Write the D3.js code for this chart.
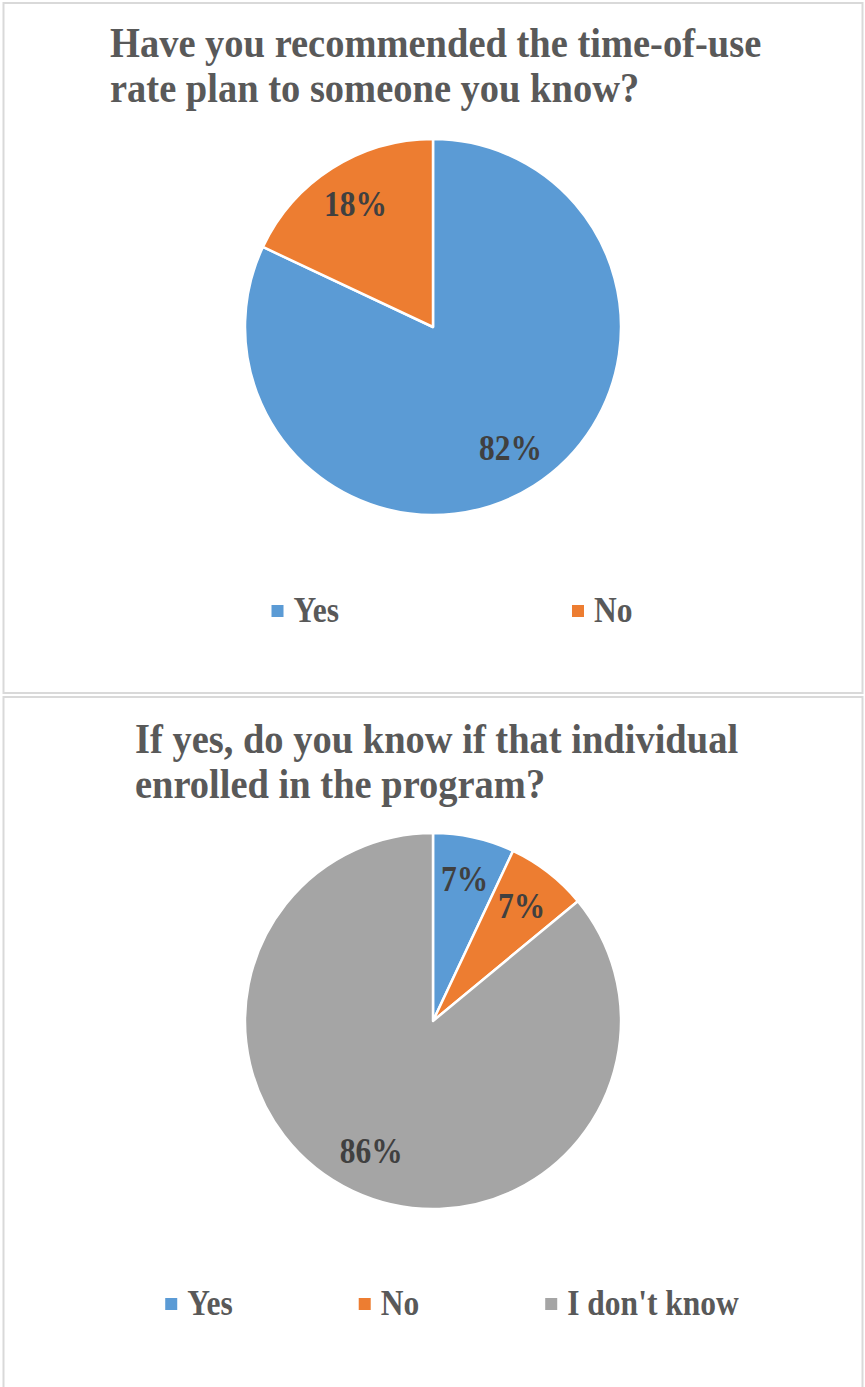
<!DOCTYPE html>
<html>
<head>
<meta charset="utf-8">
<script src="https://cdn.jsdelivr.net/npm/d3@7"></script>
<style>
  html, body { margin: 0; padding: 0; background: #ffffff; }
  svg { display: block; }
  text { font-family: "Liberation Serif", "Times New Roman", serif; font-weight: bold; }
</style>
</head>
<body>
<svg id="chart" width="865" height="1387"></svg>
<script>
// Survey results: recommending the time-of-use rate plan
const recommendTitle = ["Have you recommended the time-of-use", "rate plan to someone you know?"];
const recommendCategories = ["Yes", "No"];
const recommendValues = [82, 18];

// Follow-up: enrolment of the person it was recommended to
const enrolledTitle = ["If yes, do you know if that individual", "enrolled in the program?"];
const enrolledCategories = ["Yes", "No", "I don't know"];
const enrolledValues = [7, 7, 86];

const sliceColors = ["#5B9BD5", "#ED7D31", "#A5A5A5"];

const svg = d3.select("#chart");

const panels = [
  { title: recommendTitle, cats: recommendCategories, vals: recommendValues,
    top: 3, height: 690, titleX: 110, titleY: 57, cy: 327, legendY: 622, legendGap: 233 },
  { title: enrolledTitle, cats: enrolledCategories, vals: enrolledValues,
    top: 697, height: 700, titleX: 135, titleY: 753, cy: 1021, legendY: 1315, legendGap: 126 }
];

const radius = 188;
const cx = 433;
const textStretch = 1.12; // glyphs are drawn slightly taller than wide

panels.forEach(p => {
  const g = svg.append("g");

  // panel frame
  g.append("rect")
    .attr("x", 3.5).attr("y", p.top)
    .attr("width", 859).attr("height", p.height)
    .attr("fill", "#ffffff")
    .attr("stroke", "#d9d9d9").attr("stroke-width", 2);

  // title, left aligned in a two-line block
  g.selectAll("text.title")
    .data(p.title)
    .join("text")
    .attr("class", "title")
    .attr("transform", (d, i) => `translate(${p.titleX},${p.titleY + i * 45}) scale(1,${textStretch})`)
    .attr("fill", "#595959")
    .style("font-size", "38.5px")
    .text(d => d);

  const color = d3.scaleOrdinal().domain(p.cats).range(sliceColors);
  const pie = d3.pie().sort(null).value(d => d.value);
  const arcs = pie(p.cats.map((c, i) => ({ cat: c, value: p.vals[i] })));
  const arc = d3.arc().innerRadius(0).outerRadius(radius);
  const labelArc = d3.arc().innerRadius(radius * 0.77).outerRadius(radius * 0.77);

  const pieG = g.append("g").attr("transform", `translate(${cx},${p.cy})`);
  pieG.selectAll("path")
    .data(arcs)
    .join("path")
    .attr("d", arc)
    .attr("fill", d => color(d.data.cat))
    .attr("stroke", "#ffffff")
    .attr("stroke-width", 2.5)
    .attr("stroke-linejoin", "round");

  pieG.selectAll("text.val")
    .data(arcs)
    .join("text")
    .attr("class", "val")
    .attr("transform", d => {
      const [x, y] = labelArc.centroid(d);
      return `translate(${x},${y + 11}) scale(1,${textStretch})`;
    })
    .attr("text-anchor", "middle")
    .attr("fill", "#404040")
    .style("font-size", "31.5px")
    .text(d => d.data.value + "%");

  // legend, centred under the pie
  const lg = g.append("g");
  const items = lg.selectAll("g")
    .data(p.cats)
    .join("g");
  items.append("rect")
    .attr("width", 12).attr("height", 12)
    .attr("y", p.legendY - 17)
    .attr("fill", d => color(d));
  items.append("text")
    .attr("transform", `translate(22,${p.legendY}) scale(1,${textStretch})`)
    .attr("fill", "#595959")
    .style("font-size", "31.5px")
    .text(d => d);

  let x = 0;
  items.each(function () {
    const w = 22 + this.querySelector("text").getComputedTextLength();
    d3.select(this).attr("transform", `translate(${x},0)`);
    x += w + p.legendGap;
  });
  const total = x - p.legendGap;
  lg.attr("transform", `translate(${452 - total / 2},0)`);
});
</script>
</body>
</html>
